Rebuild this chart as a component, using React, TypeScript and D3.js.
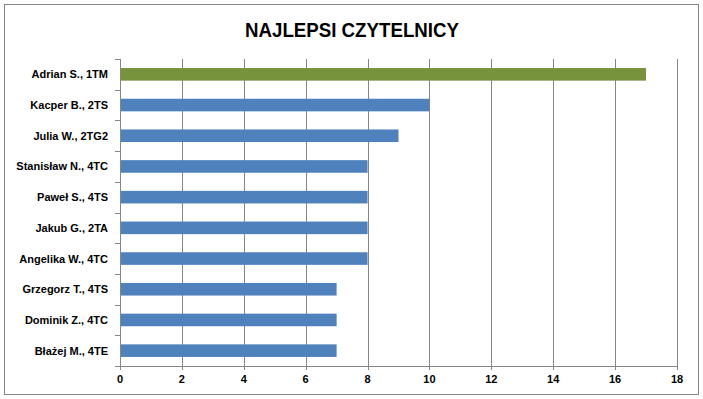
import React from "react";
import * as d3 from "d3";

const categories = [
  "Adrian S., 1TM",
  "Kacper B., 2TS",
  "Julia W., 2TG2",
  "Stanisław N., 4TC",
  "Paweł S., 4TS",
  "Jakub G., 2TA",
  "Angelika W., 4TC",
  "Grzegorz T., 4TS",
  "Dominik Z., 4TC",
  "Błażej M., 4TE",
];
const values = [17, 10, 9, 8, 8, 8, 8, 7, 7, 7];
const xTicks = [0, 2, 4, 6, 8, 10, 12, 14, 16, 18];
const title = "NAJLEPSI CZYTELNICY";

const W = 703;
const H = 399;
const left = 120;
const right = 677;
const top = 59;
const bottom = 366;
const font = "'Liberation Sans', Arial, sans-serif";

export default function App() {
  const x = d3.scaleLinear().domain([0, 18]).range([left, right]);
  const y = d3
    .scaleBand<string>()
    .domain(categories)
    .range([top, bottom])
    .paddingInner(0.59)
    .paddingOuter(0.295);
  const band = (bottom - top) / categories.length;
  const boundaries = d3.range(categories.length + 1).map((i) => top + i * band);
  const grid = "#868686";
  return (
    <svg
      width={W}
      height={H}
      style={{ position: "absolute", left: 0, top: 0, display: "block" }}
    >
      <rect x={0} y={0} width={W} height={H} fill="#fff" />
      <rect x={4.5} y={4.5} width={694} height={390} fill="#fff" stroke="#868686" strokeWidth={1} />
      <text
        x={352}
        y={36.5}
        textAnchor="middle"
        fontFamily={font}
        fontWeight="bold"
        fontSize={20}
        textLength={214}
        lengthAdjust="spacingAndGlyphs"
        fill="#000"
      >
        {title}
      </text>
      {xTicks.map((t) => (
        <line
          key={"g" + t}
          x1={Math.round(x(t)) + 0.5}
          x2={Math.round(x(t)) + 0.5}
          y1={top}
          y2={bottom + 4}
          stroke={grid}
          strokeWidth={1}
        />
      ))}
      <line x1={left - 4} x2={right} y1={bottom + 0.5} y2={bottom + 0.5} stroke={grid} />
      {boundaries.map((b, i) => (
        <line
          key={"yt" + i}
          x1={left - 5}
          x2={left}
          y1={Math.round(b) + 0.5}
          y2={Math.round(b) + 0.5}
          stroke={grid}
        />
      ))}
      {categories.map((c, i) => (
        <rect
          key={c}
          x={x(0) + 1}
          y={y(c)!}
          width={x(values[i]) - x(0) - 1}
          height={y.bandwidth()}
          fill={i === 0 ? "#77933C" : "#4F81BD"}
        />
      ))}
      {categories.map((c) => (
        <text
          key={"l" + c}
          x={108}
          y={y(c)! + y.bandwidth() / 2 + 4}
          textAnchor="end"
          fontFamily={font}
          fontWeight="bold"
          fontSize={11}
          fill="#000"
        >
          {c}
        </text>
      ))}
      {xTicks.map((t) => (
        <text
          key={"t" + t}
          x={x(t)}
          y={383}
          textAnchor="middle"
          fontFamily={font}
          fontWeight="bold"
          fontSize={11}
          fill="#000"
        >
          {t}
        </text>
      ))}
    </svg>
  );
}
